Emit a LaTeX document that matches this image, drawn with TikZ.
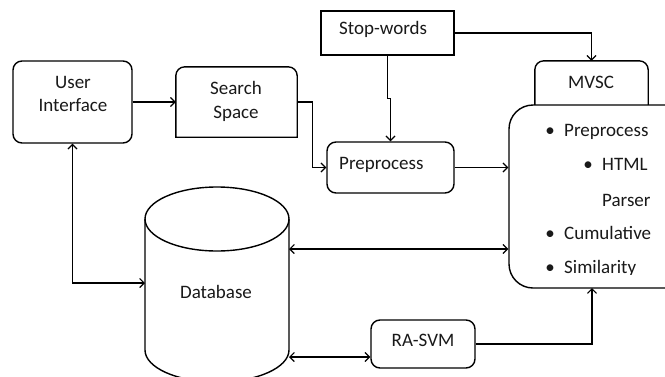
\documentclass[tikz,border=0pt]{standalone}
\usepackage{fontspec}
\setmainfont{Carlito}
\usetikzlibrary{arrows.meta}
\tikzset{
  ln/.style={line width=1.4pt},
  tip/.style={>={Straight Barb[length=4.5pt,width=9pt,line width=1.2pt]}},
  boxr/.style={ln, draw, rounded corners=9pt, inner sep=0pt},
  boxs/.style={ln, draw, inner sep=0pt},
  hid/.style={inner sep=0pt, minimum size=0pt},
  txt/.style={inner sep=0pt, font=\fontsize{19}{23}\selectfont, text=black!90},
}
\begin{document}
\begin{tikzpicture}[x=1pt,y=-1pt,tip]
\useasboundingbox[fill=white] (0,0) rectangle (665,376);

% boxes
\node[boxr, minimum width=119pt, minimum height=82pt] (ui) at (72.5,102) {};
\node[hid, minimum width=121pt, minimum height=70pt] (ss) at (236.5,102) {};
\draw[ln] (ss.south west) [rounded corners=9pt] -- (ss.north west) -- (ss.north east) [sharp corners] -- (ss.south east) -- cycle;
\node[boxs, minimum width=133pt, minimum height=44pt] (sw) at (387.5,33) {};
\node[boxr, minimum width=127pt, minimum height=51pt] (pp) at (390.5,167.5) {};
\node[hid, minimum width=113pt, minimum height=60pt] (mvsc) at (591.5,91) {};
\draw[ln] (mvsc.south west) [rounded corners=9pt] -- (mvsc.north west) -- (mvsc.north east) [sharp corners] -- (mvsc.south east);
\node[boxr, rounded corners=24pt, fill=white, minimum width=181pt, minimum height=183pt] (big) at (599.5,196.5) {};
\node[boxr, minimum width=104pt, minimum height=48pt] (ra) at (423,344) {};

% database cylinder
\draw[ln, fill=white] (145,219) -- (145,350) arc[start angle=180, end angle=360, x radius=72pt, y radius=32pt] -- (289,219);
\draw[ln] (217,219) ellipse [x radius=72pt, y radius=32pt];
\coordinate (dbL) at (145,283);
\coordinate (dbR1) at (289,249);
\coordinate (dbR2) at (289,357);
\coordinate (bigbot) at (592,288);

% texts
\node[txt, anchor=base] (t1) at (73,88) {User};
\node[txt, anchor=base] (t2) at (73,111) {Interface};
\node[txt, anchor=base] (t3) at (236,94) {Search};
\node[txt, anchor=base] (t4) at (236,118) {Space};
\node[txt, anchor=base west] (t5) at (339,34) {Stop-words};
\node[txt, anchor=base west] (t6) at (339,169) {Preprocess};
\node[txt, anchor=base] (t7) at (591,88) {MVSC};
\node[txt, anchor=base] (t8) at (216,298) {Database};
\node[txt, anchor=base] (t9) at (423,346) {RA-SVM};

\node[txt, anchor=base] (b1) at (550,136) {•};
\node[txt, anchor=base west] (l1) at (564,136) {Preprocess};
\node[txt, anchor=base] (b2) at (588,170) {•};
\node[txt, anchor=base west] (l2) at (602,170) {HTML};
\node[txt, anchor=base west] (l3) at (602,206) {Parser};
\node[txt, anchor=base] (b4) at (550,239) {•};
\node[txt, anchor=base west] (l4) at (564,239) {Cumulative};
\node[txt, anchor=base] (b5) at (550,273) {•};
\begin{scope}
\clip (540,250) rectangle (660,274);
\node[txt, anchor=base west] (l5) at (564,273) {Similarity};
\end{scope}

% connectors
\draw[ln,->] (ui.east) -- (ss.west);
\draw[ln,->] (ss.east) -- ++(15,0) |- (pp.west);
\draw[ln,->] (sw.east) -| (mvsc.north);
\draw[ln,->] (sw.south) -- ++(0,43) -| (pp.north);
\draw[ln,->] (pp.east) -- (pp.east -| big.west);
\draw[ln,<->] (dbR1) -- (dbR1 -| big.west);
\draw[ln,<->] (dbR2) -- (dbR2 -| ra.west);
\draw[ln,->] (ra.east) -| (bigbot);
\draw[ln,<->] (ui.south) |- (dbL);
\end{tikzpicture}
\end{document}
